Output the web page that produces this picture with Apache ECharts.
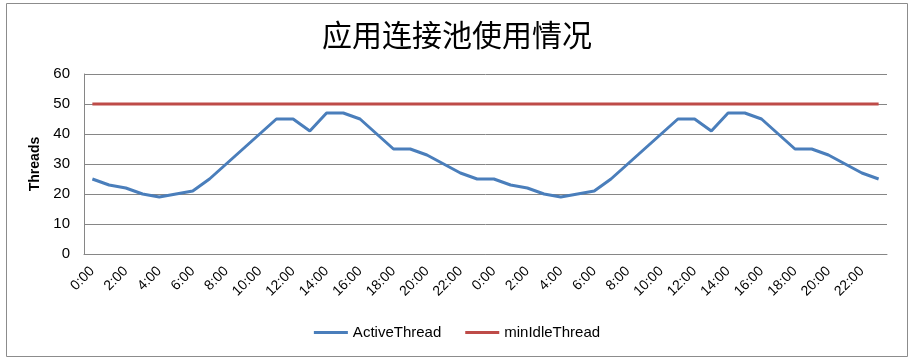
<!DOCTYPE html>
<html><head><meta charset="utf-8">
<script src="https://cdn.jsdelivr.net/npm/echarts@6/dist/echarts.min.js"></script>
<style>html,body{margin:0;padding:0;background:#fff}#c{width:914px;height:360px}</style>
</head><body><div id="c"></div>
<script>
const categories = ["0:00","1:00","2:00","3:00","4:00","5:00","6:00","7:00","8:00","9:00","10:00","11:00","12:00","13:00","14:00","15:00","16:00","17:00","18:00","19:00","20:00","21:00","22:00","23:00",
"0:00","1:00","2:00","3:00","4:00","5:00","6:00","7:00","8:00","9:00","10:00","11:00","12:00","13:00","14:00","15:00","16:00","17:00","18:00","19:00","20:00","21:00","22:00","23:00"];
const activeThread = [25,23,22,20,19,20,21,25,30,35,40,45,45,41,47,47,45,40,35,35,33,30,27,25,
25,23,22,20,19,20,21,25,30,35,40,45,45,41,47,47,45,40,35,35,33,30,27,25];
const minIdleThread = [50,50,50,50,50,50,50,50,50,50,50,50,50,50,50,50,50,50,50,50,50,50,50,50,
50,50,50,50,50,50,50,50,50,50,50,50,50,50,50,50,50,50,50,50,50,50,50,50];
const yTicks = {min:0, max:60, interval:10};

const font = "'Liberation Sans',sans-serif";
const chart = echarts.init(document.getElementById('c'), null, {renderer:'canvas'});
chart.setOption({
  animation:false,
  backgroundColor:'#fff',
  graphic:[
    {type:'rect', shape:{x:6.5,y:3.5,width:901,height:353}, style:{fill:'none',stroke:'#8c8c8c',lineWidth:1}, z:-1}
  ],
  title:{text:'应用连接池使用情况', left:'center', top:15,
    textStyle:{fontFamily:"'Noto Sans CJK SC',sans-serif", fontSize:30, fontWeight:'normal', color:'#000'}},
  legend:{bottom:15, left:'center', itemWidth:34, itemHeight:3, itemGap:24, icon:'rect',
    textStyle:{fontFamily:font, fontSize:15, color:'#000'},
    data:['ActiveThread','minIdleThread']},
  grid:{left:84, right:27, top:74, bottom:106},
  xAxis:{type:'category', data:categories, boundaryGap:true,
    axisLine:{lineStyle:{color:'#868686'}}, axisTick:{show:false},
    axisLabel:{interval:1, rotate:45, color:'#000', fontFamily:font, fontSize:14, margin:15}},
  yAxis:{type:'value', min:yTicks.min, max:yTicks.max, interval:yTicks.interval,
    name:'Threads', nameLocation:'middle', nameGap:37, nameRotate:90,
    nameTextStyle:{fontFamily:font, fontWeight:'bold', fontSize:14, color:'#000'},
    axisLine:{show:true, lineStyle:{color:'#868686'}}, axisTick:{show:false},
    splitLine:{lineStyle:{color:'#868686'}},
    axisLabel:{color:'#000', fontFamily:font, fontSize:15, margin:14}},
  series:[
    {name:'ActiveThread', type:'line', data:activeThread, showSymbol:false, symbol:'none',
      lineStyle:{color:'#4A7EBB', width:3}, itemStyle:{color:'#4A7EBB'}},
    {name:'minIdleThread', type:'line', data:minIdleThread, showSymbol:false, symbol:'none',
      lineStyle:{color:'#BE4B48', width:3}, itemStyle:{color:'#BE4B48'}}
  ]
});
</script></body></html>
